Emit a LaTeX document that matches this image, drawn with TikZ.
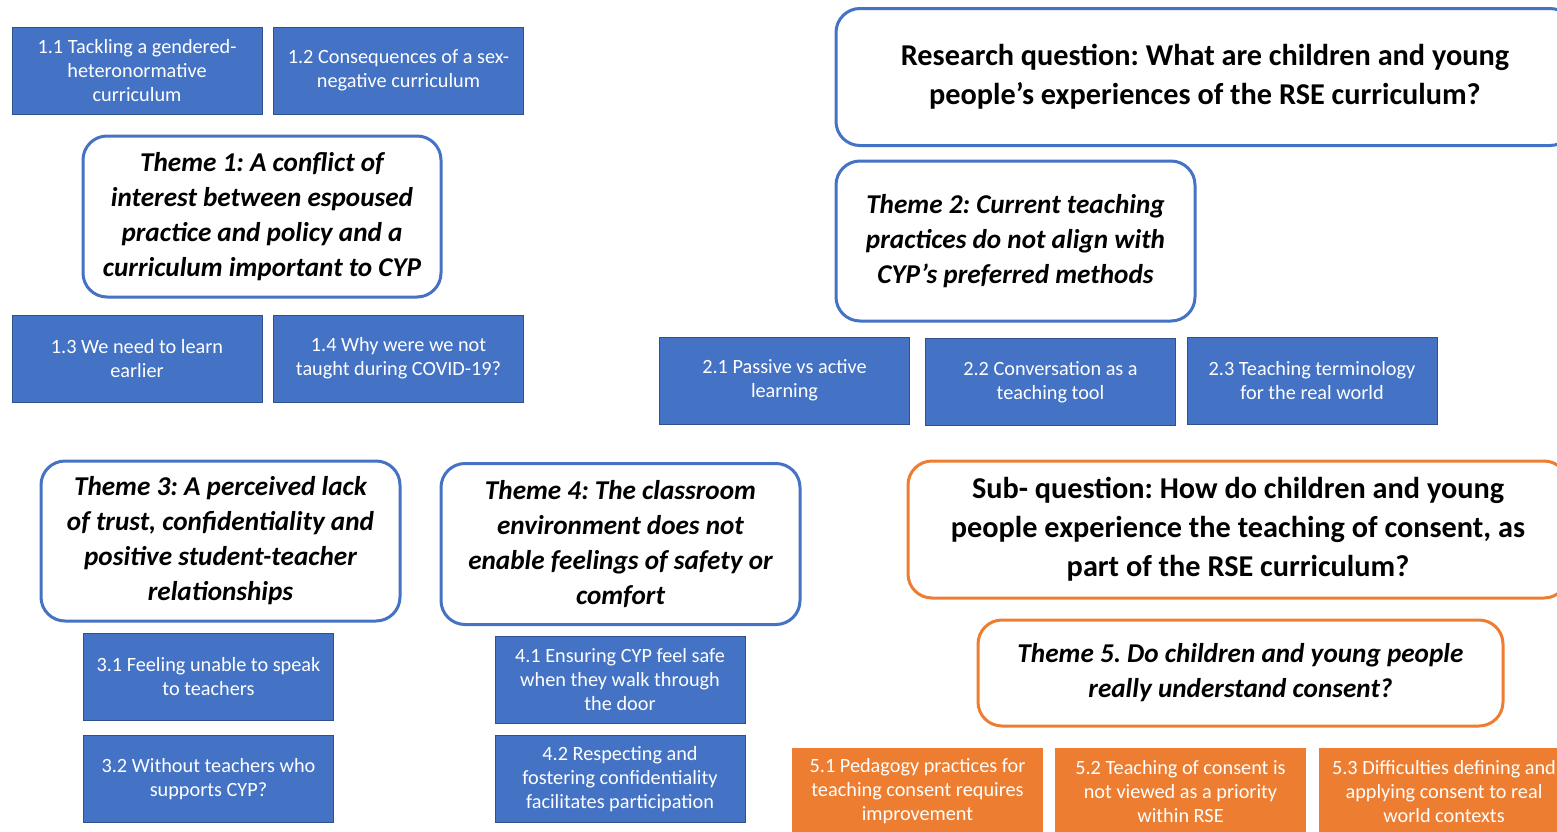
\documentclass[tikz,border=0pt]{standalone}
\usepackage{fontspec}
\setmainfont{Carlito}
\frenchspacing
\definecolor{rseblue}{HTML}{4472C4}
\definecolor{rseedge}{HTML}{2F528F}
\definecolor{rseorange}{HTML}{ED7D31}
\tikzset{
 subtheme/.style={rectangle,fill=rseblue,draw=rseedge,line width=0.6pt,text=white,align=center,
  minimum width=187.5pt,minimum height=65.25pt,inner sep=2pt,font=\fontsize{15.2}{18}\selectfont},
 subfive/.style={subtheme,fill=rseorange,draw=rseorange},
 theme/.style={rectangle,rounded corners=18pt,draw=rseblue,line width=2.25pt,fill=white,align=center,
  minimum width=268.5pt,minimum height=120.75pt,inner sep=2pt,font=\fontsize{20.4}{26.25}\selectfont\bfseries\itshape},
 question/.style={theme,font=\fontsize{22.7}{29.25}\selectfont\bfseries,minimum height=102.75pt}
}
\begin{document}
\begin{tikzpicture}[x=0.75pt,y=-0.75pt]
\useasboundingbox (0,0) rectangle (1557,832);
\clip (0,0) rectangle (1557,832);
% theme 1
\node [subtheme] (s11) at (137,70.5) {1.1 Tackling a gendered-\\heteronormative\\curriculum};
\node [subtheme] (s12) at (398.5,70.5) {1.2 Consequences of a sex-\\negative curriculum};
\node [theme] (t1) at (262,216.5) {Theme 1: A conflict of\\interest between espoused\\practice and policy and a\\curriculum important to CYP};
\node [subtheme] (s13) at (137,358.5) {1.3 We need to learn\\earlier};
\node [subtheme] (s14) at (398.5,358.5) {1.4 Why were we not\\taught during COVID-19?};
% research question and theme 2
\node [question,minimum width=553.5pt] (rq) at (1205,77) {Research question: What are children and young\\people’s experiences of the RSE curriculum?};
\node [theme,minimum width=269.25pt,minimum height=120pt] (t2) at (1015.5,241) {Theme 2: Current teaching\\practices do not align with\\CYP’s preferred methods};
\node [subtheme] (s21) at (784.5,380.5) {2.1 Passive vs active\\learning};
\node [subtheme] (s22) at (1050.5,382) {2.2 Conversation as a\\teaching tool};
\node [subtheme] (s23) at (1312,380.5) {2.3 Teaching terminology\\for the real world};
% themes 3 and 4
\node [theme,minimum width=269.25pt,minimum height=120pt] (t3) at (220.5,541) {Theme 3: A perceived lack\\of trust, confidentiality and\\positive student-teacher\\relationships};
\node [theme,minimum width=269.25pt] (t4) at (620.5,544) {Theme 4: The classroom\\environment does not\\enable feelings of safety or\\comfort};
\node [subtheme] (s31) at (208.5,677) {3.1 Feeling unable to speak\\to teachers};
\node [subtheme] (s32) at (208.5,779) {3.2 Without teachers who\\supports CYP?};
\node [subtheme] (s41) at (620,679.5) {4.1 Ensuring CYP feel safe\\when they walk through\\the door};
\node [subtheme] (s42) at (620,779) {4.2 Respecting and\\fostering confidentiality\\facilitates participation};
% sub-question and theme 5
\node [question,draw=rseorange,minimum width=495pt] (sq) at (1238,529.5) {Sub- question: How do children and young\\people experience the teaching of consent, as\\part of the RSE curriculum?};
\node [theme,draw=rseorange,minimum width=393.75pt,minimum height=79.5pt] (t5) at (1240.5,673) {Theme 5. Do children and young people\\really understand consent?};
\node [subfive] (s51) at (917.5,791.5) {5.1 Pedagogy practices for\\teaching consent requires\\improvement};
\node [subfive] (s52) at (1180.5,791.5) {5.2 Teaching of consent is\\not viewed as a priority\\within RSE};
\node [subfive] (s53) at (1444,791.5) {5.3 Difficulties defining and\\applying consent to real\\world contexts};
\end{tikzpicture}
\end{document}
